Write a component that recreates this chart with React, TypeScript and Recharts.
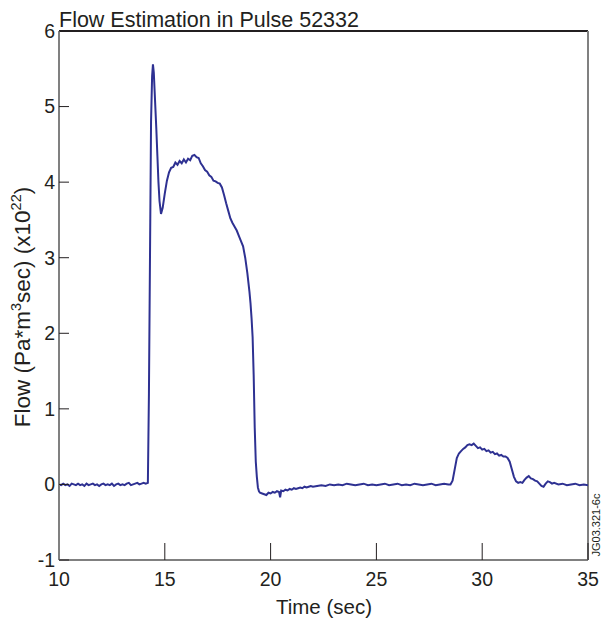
import React from 'react';
import { LineChart, Line, XAxis, YAxis, ReferenceLine } from 'recharts';

// time (sec), flow (x10^22 Pa*m3/sec)
const PRE_PULSE: [number, number][] = [
  [10.0, 0.0], [10.1, -0.01], [10.2, 0.01], [10.3, -0.01], [10.4, 0.0], [10.5, -0.02],
  [10.6, 0.01], [10.7, 0.0], [10.8, -0.01], [10.9, 0.01], [11.0, -0.01], [11.1, 0.0],
  [11.2, -0.02], [11.3, 0.01], [11.4, -0.01], [11.5, 0.0], [11.6, 0.01], [11.7, -0.01],
  [11.8, 0.0], [11.9, -0.02], [12.0, 0.0], [12.1, 0.01], [12.2, -0.01], [12.3, 0.0],
  [12.4, -0.01], [12.5, 0.01], [12.6, -0.02], [12.7, 0.0], [12.8, 0.01], [12.9, -0.01],
  [13.0, 0.0], [13.1, -0.01], [13.2, 0.01], [13.3, 0.02], [13.4, -0.01], [13.5, 0.0],
  [13.6, 0.01], [13.7, 0.02], [13.8, 0.0], [13.9, 0.01], [14.0, 0.02], [14.1, 0.01],
  [14.2, 0.02],
];

const MAIN_PULSE: [number, number][] = [
  [14.25, 1.2], [14.3, 3.0], [14.35, 4.8], [14.4, 5.4], [14.44, 5.56], [14.48, 5.45],
  [14.52, 5.2], [14.56, 4.95], [14.6, 4.7], [14.65, 4.35], [14.7, 4.0], [14.75, 3.75],
  [14.82, 3.58], [14.9, 3.66], [15.0, 3.85], [15.1, 4.02], [15.2, 4.13], [15.3, 4.19],
  [15.4, 4.2], [15.5, 4.26], [15.6, 4.23], [15.7, 4.28], [15.8, 4.25], [15.9, 4.3],
  [16.0, 4.26], [16.1, 4.31], [16.2, 4.29], [16.3, 4.35], [16.4, 4.36], [16.5, 4.33],
  [16.6, 4.32], [16.7, 4.25], [16.8, 4.21], [16.9, 4.16], [17.0, 4.14], [17.1, 4.09],
  [17.2, 4.07], [17.3, 4.02], [17.4, 4.01], [17.5, 3.99], [17.6, 3.98], [17.7, 3.93],
  [17.8, 3.83], [17.9, 3.72], [18.0, 3.62], [18.1, 3.52], [18.2, 3.46], [18.3, 3.41],
  [18.4, 3.36], [18.5, 3.29], [18.6, 3.22], [18.7, 3.15], [18.8, 3.0], [18.9, 2.8],
  [19.0, 2.55], [19.05, 2.4], [19.1, 2.2], [19.15, 1.95], [19.2, 1.45], [19.25, 0.75],
  [19.3, 0.3], [19.35, 0.1], [19.4, -0.04], [19.45, -0.09], [19.5, -0.11],
];

const AFTER_PULSE: [number, number][] = [
  [19.6, -0.12], [19.7, -0.13], [19.8, -0.14], [19.9, -0.11], [20.0, -0.12], [20.1, -0.1],
  [20.2, -0.11], [20.3, -0.09], [20.4, -0.1], [20.45, -0.17], [20.5, -0.08], [20.6, -0.09],
  [20.7, -0.07], [20.8, -0.08], [20.9, -0.06], [21.0, -0.07], [21.1, -0.05], [21.2, -0.06],
  [21.3, -0.05], [21.4, -0.04], [21.5, -0.05], [21.6, -0.03], [21.7, -0.04], [21.8, -0.03],
  [21.9, -0.02], [22.0, -0.03], [22.2, -0.02], [22.4, -0.01], [22.6, -0.02], [22.8, 0.0],
  [23.0, -0.01],
];

const BASELINE: [number, number][] = [
  [23.2, 0.0], [23.4, -0.01], [23.6, 0.01], [23.8, 0.0], [24.0, -0.01], [24.2, 0.0],
  [24.4, 0.01], [24.6, -0.01], [24.8, 0.0], [25.0, -0.01], [25.2, 0.0], [25.4, 0.01],
  [25.6, -0.01], [25.8, 0.0], [26.0, 0.01], [26.2, -0.01], [26.4, 0.0], [26.6, -0.01],
  [26.8, 0.01], [27.0, 0.0], [27.2, -0.01], [27.4, 0.0], [27.6, 0.01], [27.8, -0.01],
  [28.0, 0.0], [28.2, 0.01], [28.4, 0.0],
];

const SECOND_PULSE: [number, number][] = [
  [28.5, 0.0], [28.6, 0.05], [28.7, 0.2], [28.8, 0.35], [28.9, 0.41], [29.0, 0.44],
  [29.1, 0.47], [29.2, 0.49], [29.3, 0.52], [29.4, 0.53], [29.5, 0.52], [29.6, 0.54],
  [29.7, 0.51], [29.8, 0.48], [29.9, 0.49], [30.0, 0.46], [30.1, 0.47], [30.2, 0.44],
  [30.3, 0.45], [30.4, 0.42], [30.5, 0.43], [30.6, 0.4], [30.7, 0.41], [30.8, 0.38],
  [30.9, 0.39], [31.0, 0.37], [31.1, 0.37], [31.2, 0.35], [31.3, 0.3], [31.4, 0.2],
  [31.5, 0.1], [31.6, 0.04],
];

const TAIL: [number, number][] = [
  [31.7, 0.02], [31.8, 0.03], [31.9, 0.02], [32.0, 0.06], [32.1, 0.09], [32.2, 0.11],
  [32.3, 0.08], [32.4, 0.07], [32.5, 0.05], [32.6, 0.04], [32.7, 0.01], [32.8, -0.02],
  [32.9, -0.03], [33.0, 0.01], [33.1, 0.04], [33.2, 0.03], [33.3, 0.01], [33.4, 0.02],
  [33.6, 0.0], [33.8, 0.01], [34.0, -0.01], [34.2, 0.0], [34.4, 0.01], [34.6, -0.01],
  [34.8, 0.0], [35.0, -0.01],
];

const X_TICKS = [10, 15, 20, 25, 30, 35];
const Y_TICKS = [-1, 0, 1, 2, 3, 4, 5, 6];

const data = [...PRE_PULSE, ...MAIN_PULSE, ...AFTER_PULSE, ...BASELINE, ...SECOND_PULSE, ...TAIL].map(
  ([time, flow]) => ({ time, flow })
);

const FONT = '"Liberation Sans", Arial, Helvetica, sans-serif';
const INK = '#231f20';
const FRAME = '#808080';

const renderTitle = () => (
  <text x={59} y={27} fontSize={21.5} fontFamily={FONT} fill={INK}>
    Flow Estimation in Pulse 52332
  </text>
);

const renderCode = () => (
  <text
    x={600}
    y={525}
    fontSize={11}
    fontFamily={FONT}
    fill={INK}
    textAnchor="middle"
    transform="rotate(-90, 600, 525)"
  >
    JG03.321-6c
  </text>
);

const renderYLabel = () => (
  <text
    x={30}
    y={307}
    fontSize={22.5}
    fontFamily={FONT}
    fill={INK}
    textAnchor="middle"
    transform="rotate(-90, 30, 307)"
  >
    Flow (Pa*m<tspan dy={-9} fontSize={14.5}>3</tspan>
    <tspan dy={9}>sec) (x10</tspan>
    <tspan dy={-9} fontSize={14.5}>22</tspan>
    <tspan dy={9}>)</tspan>
  </text>
);

const renderXLabel = () => (
  <text x={324} y={614} fontSize={20.5} fontFamily={FONT} fill={INK} textAnchor="middle">
    Time (sec)
  </text>
);

export default function App() {
  return (
    <div style={{ position: 'absolute', left: 0, top: 0, background: '#fff' }}>
      <LineChart width={602} height={628} data={data} margin={{ top: 31, right: 14, left: 0, bottom: 0 }}>
        <XAxis
          dataKey="time"
          type="number"
          domain={[10, 35]}
          ticks={X_TICKS}
          height={68}
          allowDataOverflow
          axisLine={{ stroke: FRAME, strokeWidth: 2 }}
          tickLine={{ stroke: INK, strokeWidth: 1 }}
          tickSize={-17}
          tickMargin={29}
          tick={{ fontSize: 19.5, fill: INK, fontFamily: FONT }}
          label={renderXLabel}
        />
        <YAxis
          type="number"
          domain={[-1, 6]}
          ticks={Y_TICKS}
          width={59}
          allowDataOverflow
          axisLine={{ stroke: FRAME, strokeWidth: 2 }}
          tickLine={{ stroke: INK, strokeWidth: 1 }}
          tickSize={-10}
          tickMargin={14}
          tick={{ fontSize: 19.5, fill: INK, fontFamily: FONT }}
          label={renderYLabel}
        />
        <ReferenceLine y={6} stroke={INK} strokeWidth={2} label={renderTitle} />
        <ReferenceLine x={35} stroke={FRAME} strokeWidth={2} label={renderCode} />
        <Line
          type="linear"
          dataKey="flow"
          stroke="#2e3192"
          strokeWidth={2}
          dot={false}
          isAnimationActive={false}
        />
      </LineChart>
    </div>
  );
}
